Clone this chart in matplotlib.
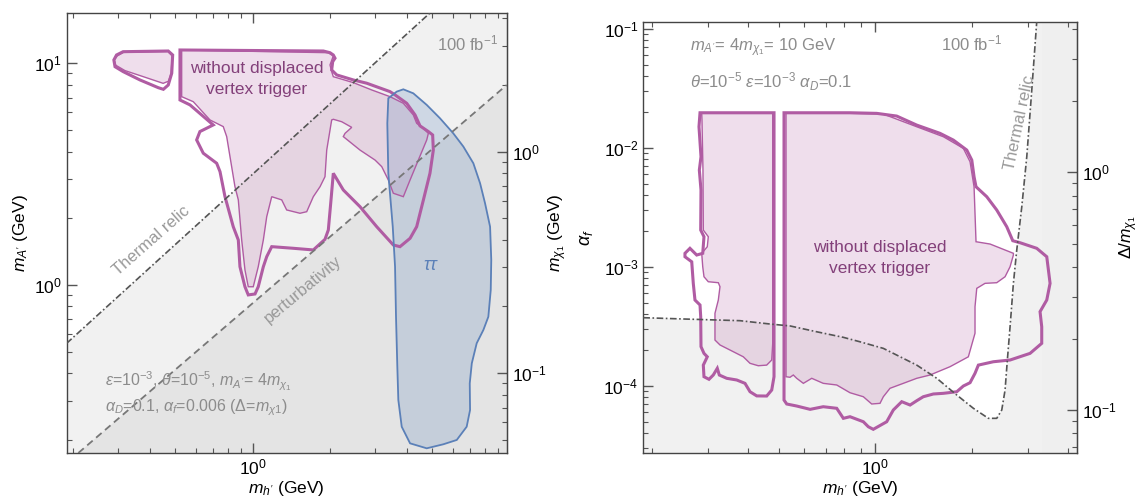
import matplotlib
matplotlib.use('Agg')
import matplotlib.pyplot as plt
from matplotlib.ticker import NullFormatter

plt.rcParams['font.family'] = ['Liberation Sans', 'DejaVu Sans']
plt.rcParams['mathtext.fontset'] = 'custom'
plt.rcParams['mathtext.rm'] = 'Liberation Sans'
plt.rcParams['mathtext.it'] = 'Liberation Sans:italic'
plt.rcParams['mathtext.bf'] = 'Liberation Sans:bold'

# ---------------- left panel data (m_h', m_A' in GeV) ----------------
xlim_l = (0.1887, 9.75)
ylim_l = (0.1747, 16.86)

thermal_x = [0.1887, 4.90]
thermal_y = [0.546, 16.86]
pert_x = [0.2094, 9.75]
pert_y = [0.1747, 7.98]

island_thick_x = [0.295, 0.313, 0.469, 0.488, 0.484, 0.469, 0.449, 0.429, 0.364, 0.313, 0.291, 0.288]
island_thick_y = [10.9, 11.28, 11.36, 10.9, 9.02, 7.98, 7.63, 7.76, 8.41, 9.17, 9.65, 10.35]
island_fill_x = [0.297, 0.314, 0.468, 0.486, 0.481, 0.47, 0.448, 0.375, 0.318, 0.293, 0.289]
island_fill_y = [10.8, 11.2, 11.3, 10.8, 9.0, 8.3, 8.12, 8.7, 9.27, 9.8, 10.35]

main_thick_x = [0.521, 1.884, 2.0, 2.06, 2.092, 2.049, 2.03, 2.124, 2.465, 2.779, 3.425, 3.583,
                3.978, 4.286, 4.482, 4.83, 5.02, 5.05, 4.90, 4.62, 4.35, 4.10, 3.746, 3.528,
                3.04, 2.617, 2.253, 2.06, 2.018, 1.97, 1.912, 1.722, 1.439, 1.186, 1.134, 1.10,
                1.051, 1.021, 0.961, 0.933, 0.892, 0.879, 0.840, 0.780, 0.746, 0.724, 0.642,
                0.605, 0.623, 0.702, 0.570, 0.521]
main_thick_y = [11.48, 11.36, 11.16, 10.9, 10.54, 10.17, 9.33, 8.86, 8.41, 8.13, 7.45, 7.20,
                6.60, 5.85, 5.22, 4.92, 4.75, 4.06, 3.19, 2.42, 1.832, 1.624, 1.489, 1.515,
                1.832, 2.255, 2.683, 3.19, 2.42, 1.771, 1.607, 1.439, 1.464, 1.489, 1.342, 1.209,
                0.982, 0.911, 0.902, 0.982, 1.209, 1.596, 1.832, 2.502, 3.245, 3.54, 3.93,
                4.51, 4.92, 5.27, 6.49, 6.83]

main_fill_x = [0.529, 1.97, 2.06, 2.0, 2.03, 2.06, 2.465, 2.907, 3.425, 3.859, 4.22, 4.35,
               4.62, 4.83, 4.76, 4.415, 4.10, 3.859, 3.528, 3.373, 3.18, 2.995, 2.617, 2.253,
               2.288, 2.43, 2.221, 2.06, 2.03, 1.942, 1.912, 1.829, 1.722, 1.623, 1.528, 1.356,
               1.297, 1.186, 1.134, 1.10, 1.051, 1.005, 0.961, 0.933, 0.906, 0.879, 0.853,
               0.828, 0.792, 0.768, 0.682, 0.587, 0.529]
main_fill_y = [11.48, 11.16, 10.79, 9.83, 9.17, 8.70, 8.18, 7.58, 7.07, 6.60, 5.85, 5.36,
               5.09, 4.83, 4.51, 3.66, 2.977, 2.502, 2.593, 2.977, 3.418, 3.66, 4.06, 4.67,
               4.83, 5.14, 5.45, 5.59, 5.55, 4.06, 3.08, 2.776, 2.502, 2.141, 2.106, 2.18,
               2.42, 2.502, 2.033, 1.596, 1.209, 0.982, 0.982, 1.169, 1.596, 2.42, 2.776,
               3.418, 4.67, 5.18, 5.55, 6.71, 7.07]

tautau_x = [3.373, 3.637, 3.859, 4.22, 4.76, 5.36, 6.04, 6.61, 7.23, 7.68, 8.03, 8.40, 8.49,
            8.45, 8.27, 7.91, 7.45, 7.13, 7.0, 7.02, 6.81, 6.23, 5.52, 4.76, 4.10, 3.804,
            3.69, 3.657, 3.614, 3.583, 3.51, 3.373, 3.343]
tautau_y = [6.95, 7.45, 7.63, 7.32, 6.49, 5.65, 4.83, 4.21, 3.54, 2.876, 2.336, 1.832, 1.297,
            0.949, 0.719, 0.627, 0.546, 0.4434, 0.360, 0.273, 0.2295, 0.200, 0.1912, 0.1834,
            0.1931, 0.2295, 0.303, 0.428, 0.719, 1.209, 1.832, 3.19, 5.36]

# ---------------- right panel data (m_h' in GeV, alpha_f) ----------------
xlim_r = (0.1885, 4.26)
ylim_r = (2.72e-5, 0.1146)

rect_thick_x = [0.2835, 0.2814, 0.2855, 0.2821, 0.2855, 0.2849, 0.2917, 0.2891, 0.2768, 0.2637,
                0.2544, 0.2544, 0.2671, 0.2701, 0.2734, 0.2835, 0.2849, 0.2855, 0.2917, 0.2987,
                0.2903, 0.2917, 0.3024, 0.3119, 0.3210, 0.3257, 0.3435, 0.3692, 0.3918, 0.4063,
                0.4263, 0.458, 0.4749, 0.4828, 0.4828]
rect_thick_y = [0.01968, 0.01501, 8.40e-3, 6.49e-3, 4.41e-3, 2.034e-3, 1.787e-3, 1.296e-3,
                1.254e-3, 1.428e-3, 1.296e-3, 1.213e-3, 1.10e-3, 7.25e-4, 5.25e-4, 4.77e-4,
                3.80e-4, 2.13e-4, 1.87e-4, 1.75e-4, 1.49e-4, 1.19e-4, 1.132e-4, 1.23e-4,
                1.40e-4, 1.23e-4, 1.154e-4, 1.117e-4, 1.047e-4, 8.9e-5, 8.21e-5, 8.19e-5,
                9.2e-5, 1.19e-4, 0.01968]
rect_fill_x = [0.2870, 0.2875, 0.2896, 0.2903, 0.3009, 0.2987, 0.2870, 0.2891, 0.2917, 0.3009,
               0.3234, 0.3273, 0.3234, 0.3157, 0.3157, 0.3273, 0.3517, 0.3871, 0.4063, 0.4311,
               0.458, 0.4749, 0.4783, 0.4783]
rect_fill_y = [0.01945, 0.01709, 6.49e-3, 2.034e-3, 1.787e-3, 1.472e-3, 1.296e-3, 1.0e-3,
               8.24e-4, 7.48e-4, 7.34e-4, 6.79e-4, 5.25e-4, 4.06e-4, 2.42e-4, 2.20e-4,
               1.995e-4, 1.75e-4, 1.542e-4, 1.472e-4, 1.49e-4, 1.644e-4, 2.27e-4, 0.01945]

big_thick_x = [0.5188, 0.834, 1.011, 1.167, 1.348, 1.594, 1.754, 1.932, 2.003, 2.036, 2.065,
               2.231, 2.397, 2.576, 2.690, 2.835, 3.196, 3.435, 3.518, 3.435, 3.273, 3.313,
               3.313, 3.046, 2.638, 2.339, 2.10, 2.05, 1.978, 1.885, 1.798, 1.633, 1.519,
               1.413, 1.348, 1.285, 1.21, 1.139, 1.086, 0.986, 0.9515, 0.918, 0.834, 0.795,
               0.758, 0.688, 0.626, 0.5684, 0.529, 0.5188]
big_thick_y = [0.01968, 0.01968, 0.01945, 0.01846, 0.0155, 0.01321, 0.0116, 9.56e-3, 7.88e-3,
               5.70e-3, 4.70e-3, 3.875e-3, 2.996e-3, 2.168e-3, 1.654e-3, 1.591e-3, 1.428e-3,
               1.213e-3, 7.25e-4, 5.25e-4, 4.19e-4, 3.13e-4, 2.27e-4, 1.87e-4, 1.644e-4,
               1.59e-4, 1.49e-4, 1.271e-4, 1.06e-4, 9.94e-5, 8.9e-5, 8.63e-5, 8.52e-5,
               8.08e-5, 7.48e-5, 6.88e-5, 7.34e-5, 6.25e-5, 4.98e-5, 4.30e-5, 4.52e-5,
               4.98e-5, 5.49e-5, 5.32e-5, 6.46e-5, 6.66e-5, 6.33e-5, 6.75e-5, 7.02e-5, 7.58e-5]
big_fill_x = [0.5263, 0.834, 1.06, 1.348, 1.633, 1.885, 1.978, 2.036, 2.065, 2.285, 2.702,
              2.702, 2.638, 2.545, 2.397, 2.203, 2.076, 2.05, 2.05, 1.954, 1.713, 1.483, 1.348,
              1.224, 1.112, 1.06, 1.035, 0.975, 0.918, 0.834, 0.758, 0.688, 0.6334, 0.5962,
              0.5684, 0.5547, 0.5416, 0.5263]
big_fill_y = [0.01945, 0.01945, 0.01919, 0.01501, 0.01237, 9.89e-3, 7.63e-3, 4.70e-3,
              1.622e-3, 1.551e-3, 1.296e-3, 1.254e-3, 1.0e-3, 8.24e-4, 7.34e-4, 7.25e-4,
              6.58e-4, 4.61e-4, 2.76e-4, 1.75e-4, 1.445e-4, 1.23e-4, 1.154e-4, 1.047e-4,
              9.51e-5, 8.08e-5, 7.11e-5, 7.02e-5, 8.08e-5, 8.73e-5, 1.014e-4, 1.047e-4,
              1.154e-4, 1.047e-4, 1.154e-4, 1.23e-4, 1.177e-4, 1.19e-4]

relic_x = [0.1885, 0.2576, 0.378, 0.469, 0.5416, 0.6565, 0.795, 0.896, 1.06, 1.348, 1.557,
           1.798, 2.026, 2.257, 2.397, 2.485, 2.545, 2.587, 2.638, 2.702, 2.768, 2.87, 2.975,
           3.084, 3.196]
relic_y = [3.73e-4, 3.63e-4, 3.52e-4, 3.30e-4, 3.18e-4, 2.84e-4, 2.55e-4, 2.34e-4, 2.06e-4,
           1.49e-4, 1.154e-4, 8.35e-5, 6.46e-5, 5.32e-5, 5.32e-5, 6.25e-5, 9.2e-5, 1.644e-4,
           3.13e-4, 7.25e-4, 1.381e-3, 3.19e-3, 8.40e-3, 0.03053, 0.1146]
band_x = 3.31

# ---------------- styles ----------------
line_purple = '#b05ca3'
fill_purple = '#c27fb5'
text_purple = '#83407a'
gray_text = '#8c8c8c'
blue_line = '#5b80b8'

fig = plt.figure(figsize=(11.42, 4.99), dpi=100)
ax1 = fig.add_axes([0.0584, 0.0922, 0.3853, 0.8818])
ax2 = fig.add_axes([0.5633, 0.0922, 0.3795, 0.8643])


def style_axes(ax):
    ax.set_xscale('log')
    ax.set_yscale('log')
    for s in ax.spines.values():
        s.set_color('#444444')
        s.set_linewidth(1.0)
    ax.tick_params(which='both', direction='in', top=True, right=False,
                   color='#555555', labelsize=12.5)
    ax.tick_params(which='major', length=7, width=1.0)
    ax.tick_params(which='minor', length=3.5, width=0.8)
    ax.xaxis.set_minor_formatter(NullFormatter())
    ax.yaxis.set_minor_formatter(NullFormatter())


# ---------------- left panel ----------------
style_axes(ax1)
ax1.set_xlim(*xlim_l)
ax1.set_ylim(*ylim_l)

ax1.fill([thermal_x[0], thermal_x[1], xlim_l[1], xlim_l[1], xlim_l[0]],
         [thermal_y[0], thermal_y[1], ylim_l[1], ylim_l[0], ylim_l[0]],
         color='#f1f1f1', lw=0, zorder=0)
ax1.fill([pert_x[0], pert_x[1], xlim_l[1]], [pert_y[0], pert_y[1], ylim_l[0]],
         color='#e4e4e4', lw=0, zorder=0)

ax1.fill(island_fill_x, island_fill_y, color=fill_purple, alpha=0.25, lw=0, zorder=1)
ax1.fill(main_fill_x, main_fill_y, color=fill_purple, alpha=0.25, lw=0, zorder=1)
ax1.fill(tautau_x, tautau_y, color='#7f9cc6', alpha=0.3, lw=0, zorder=1)

ax1.fill(island_fill_x, island_fill_y, fill=False, ec=line_purple, lw=1.0, zorder=2)
ax1.fill(main_fill_x, main_fill_y, fill=False, ec=line_purple, lw=1.0, zorder=2)
ax1.fill(island_thick_x, island_thick_y, fill=False, ec=line_purple, lw=2.2, zorder=2)
ax1.fill(main_thick_x, main_thick_y, fill=False, ec=line_purple, lw=2.2, zorder=2)
ax1.fill(tautau_x, tautau_y, fill=False, ec=blue_line, lw=1.3, zorder=2)

ax1.plot(thermal_x, thermal_y, color='#555555', lw=1.2, ls=(0, (4, 1.5, 1, 1.5)), zorder=3)
ax1.plot(pert_x, pert_y, color='#777777', lw=1.3, ls=(0, (4, 2.5)), zorder=3)

ax1.text(0.4325, 0.85, 'without displaced\nvertex trigger', transform=ax1.transAxes,
         ha='center', va='center', fontsize=12.5, color=text_purple, linespacing=1.45)
ax1.text(0.98, 0.931, '100 fb$^{-1}$', transform=ax1.transAxes, ha='right', va='center',
         fontsize=12, color=gray_text)
ax1.text(0.1916, 0.4818, 'Thermal relic', transform=ax1.transAxes, ha='center', va='center',
         fontsize=12, color='#999999', rotation=41.3)
ax1.text(0.537, 0.3705, 'perturbativity', transform=ax1.transAxes, ha='center', va='center',
         fontsize=12, color='#999999', rotation=39.8)
ax1.text(0.8295, 0.427, r'$\tau\tau$', transform=ax1.transAxes, ha='center', va='center',
         fontsize=13, color=blue_line)
ax1.text(0.087, 0.162, r"$\epsilon$=10$^{-3}$, $\theta$=10$^{-5}$, $m_{A'}$= 4$m_{\chi_1}$",
         transform=ax1.transAxes, ha='left', va='center', fontsize=11.5, color=gray_text)
ax1.text(0.087, 0.104, r"$\alpha_D$=0.1, $\alpha_f$=0.006 ($\Delta$=$m_{\chi1}$)",
         transform=ax1.transAxes, ha='left', va='center', fontsize=11.5, color=gray_text)

ax1.set_xlabel("$m_{h'}$ (GeV)", fontsize=12.5, labelpad=1)
ax1.set_ylabel("$m_{A'}$ (GeV)", fontsize=12.5, labelpad=3)

sec1 = ax1.secondary_yaxis('right', functions=(lambda y: y / 4.0, lambda y: y * 4.0))
sec1.tick_params(which='both', direction='in', color='#555555', labelsize=12.5)
sec1.tick_params(which='major', length=7, width=1.0)
sec1.tick_params(which='minor', length=3.5, width=0.8)
sec1.yaxis.set_minor_formatter(NullFormatter())
sec1.set_ylabel(r"$m_{\chi_1}$ (GeV)", fontsize=12.5, labelpad=0)

# ---------------- right panel ----------------
style_axes(ax2)
ax2.set_xlim(*xlim_r)
ax2.set_ylim(*ylim_r)

ax2.fill(relic_x + [xlim_r[1], xlim_r[1], xlim_r[0]],
         relic_y + [ylim_r[1], ylim_r[0], ylim_r[0]], color='#f1f1f1', lw=0, zorder=0)
ax2.axvspan(band_x, xlim_r[1], color='#efefef', lw=0, zorder=0)

ax2.fill(rect_fill_x, rect_fill_y, color=fill_purple, alpha=0.25, lw=0, zorder=1)
ax2.fill(big_fill_x, big_fill_y, color=fill_purple, alpha=0.25, lw=0, zorder=1)
ax2.fill(rect_fill_x, rect_fill_y, fill=False, ec=line_purple, lw=1.0, zorder=2)
ax2.fill(big_fill_x, big_fill_y, fill=False, ec=line_purple, lw=1.0, zorder=2)
ax2.fill(rect_thick_x, rect_thick_y, fill=False, ec=line_purple, lw=2.2, zorder=2)
ax2.fill(big_thick_x, big_thick_y, fill=False, ec=line_purple, lw=2.2, zorder=2)

ax2.plot(relic_x, relic_y, color='#555555', lw=1.2, ls=(0, (4, 1.5, 1, 1.5)), zorder=3)

ax2.text(0.1078, 0.939, r"$m_{A'}$= 4$m_{\chi_1}$= 10 GeV", transform=ax2.transAxes,
         ha='left', va='center', fontsize=12, color=gray_text)
ax2.text(0.1078, 0.861, r"$\theta$=10$^{-5}$ $\epsilon$=10$^{-3}$ $\alpha_D$=0.1",
         transform=ax2.transAxes, ha='left', va='center', fontsize=12, color=gray_text)
ax2.text(0.8277, 0.950, '100 fb$^{-1}$', transform=ax2.transAxes, ha='right', va='center',
         fontsize=12, color=gray_text)
ax2.text(0.8691, 0.765, 'Thermal relic', transform=ax2.transAxes, ha='center', va='center',
         fontsize=12, color='#999999', rotation=78)
ax2.text(0.546, 0.452, 'without displaced\nvertex trigger', transform=ax2.transAxes,
         ha='center', va='center', fontsize=12.5, color=text_purple, linespacing=1.45)

ax2.set_xlabel("$m_{h'}$ (GeV)", fontsize=12.5, labelpad=1)
ax2.set_ylabel(r"$\alpha_f$", fontsize=13, labelpad=6)

sec2 = ax2.secondary_yaxis('right', functions=(lambda a: (a / 0.0062) ** 0.5,
                                                lambda d: 0.0062 * d ** 2))
sec2.tick_params(which='both', direction='in', color='#555555', labelsize=12.5)
sec2.tick_params(which='major', length=7, width=1.0)
sec2.tick_params(which='minor', length=3.5, width=0.8)
sec2.yaxis.set_minor_formatter(NullFormatter())
sec2.set_ylabel(r"$\Delta/m_{\chi_1}$", fontsize=12.5, labelpad=1)

fig.savefig('out.png', dpi=100)
